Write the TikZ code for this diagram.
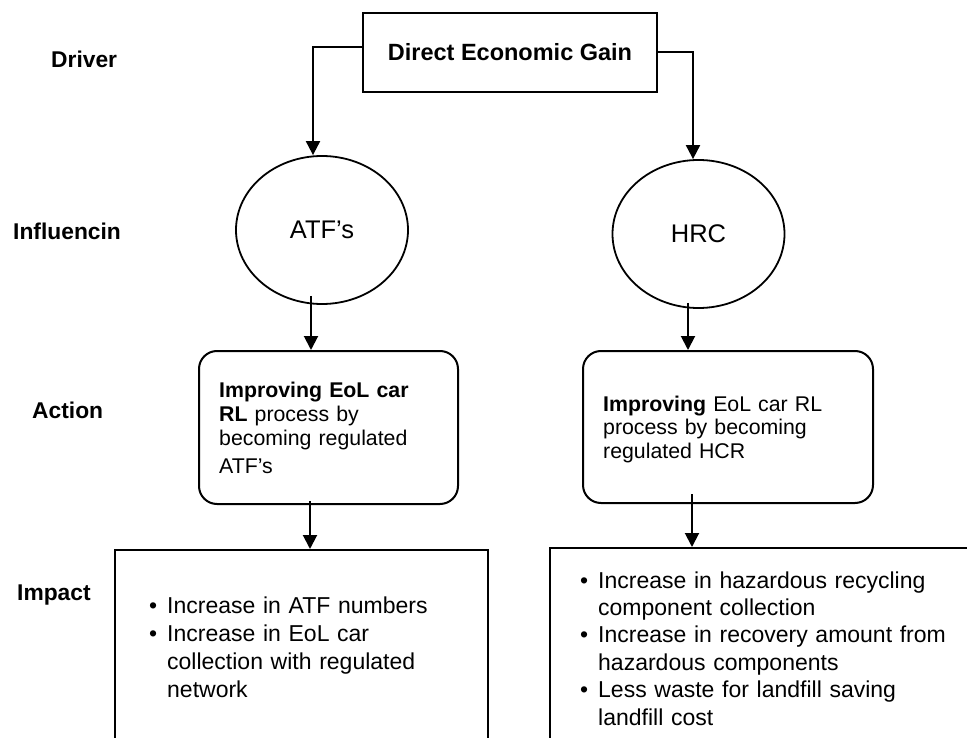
\documentclass[tikz,border=0pt]{standalone}
\usepackage{fontspec}
\setmainfont{Liberation Sans}
\usetikzlibrary{arrows.meta,shapes.geometric}
% bullet with its hanging indent, and the indent for continued lines
\newcommand{\itm}{\makebox[18pt][l]{\textbullet}}
\newcommand{\cont}{\hspace*{18pt}}
\begin{document}
\begin{tikzpicture}[x=1pt,y=-1pt,
  frame/.style={draw, line width=2pt, inner sep=0pt},
  actbox/.style={frame, rounded corners=18pt},
  party/.style={draw, ellipse, line width=1.8pt, inner sep=0pt,
    minimum width=172pt, minimum height=148pt,
    font=\fontsize{25.5}{30}\selectfont},
  conn/.style={line width=2pt, -{Triangle[length=14pt,width=14pt]}},
  rowlabel/.style={anchor=base west, inner sep=0pt,
    font=\fontsize{22.8}{27}\selectfont\bfseries},
  acttext/.style={anchor=base west, inner sep=0pt, align=left,
    text width=250pt, font=\fontsize{21.3}{24}\selectfont},
  listtext/.style={anchor=base west, inner sep=0pt, align=left,
    text width=400pt, font=\fontsize{23}{28}\selectfont}]
\useasboundingbox (0,0) rectangle (967,738);
\clip (0,0) rectangle (967,738);

% row labels
\node[rowlabel] (ldriver) at (51,68) {Driver};
\node[rowlabel] (linfl) at (13,240) {Influencin};
\node[rowlabel] (laction) at (32,418) {Action};
\node[rowlabel] (limpact) at (17,600) {Impact};

% driver
\node[frame, minimum width=294pt, minimum height=79pt,
  font=\fontsize{23.5}{28}\selectfont\bfseries] (deg) at (510,52.2)
  {Direct Economic Gain};

% influencing parties
\node[party] (atf) at (322,230) {ATF’s};
\node[party] (hrc) at (698.5,234) {HRC};

% actions
\node[actbox, minimum width=259pt, minimum height=153pt] (actl) at (328.5,427.5) {};
\node[actbox, minimum width=290pt, minimum height=152pt] (actr) at (728,427) {};
\node[acttext] (actltxt) at (219,397)
  {\textbf{Improving EoL car}\\ \textbf{RL} process by\\ becoming regulated\\[4pt] ATF’s};
\node[acttext, font=\fontsize{21.3}{23.5}\selectfont] (actrtxt) at (603,411)
  {\textbf{Improving} EoL car RL\\ process by becoming\\ regulated HCR};

% impacts (boxes run past the page edge)
\node[frame, minimum width=373pt, minimum height=220pt] (impl) at (301.5,660) {};
\node[frame, minimum width=450pt, minimum height=222pt] (impr) at (775,659) {};
\node[listtext] (impltxt) at (149,613)
  {\itm Increase in ATF numbers\\
   \itm Increase in EoL car\\
   \cont collection with regulated\\
   \cont network};
\node[listtext, font=\fontsize{23}{27.4}\selectfont] (imprtxt) at (580,588)
  {\itm Increase in hazardous recycling\\
   \cont component collection\\
   \itm Increase in recovery amount from\\
   \cont hazardous components\\
   \itm Less waste for landfill saving\\
   \cont landfill cost};

% connectors
\draw[conn] ([yshift=5pt]deg.west) -| ([xshift=-9pt]atf.north);
\draw[conn] (deg.east) -| ([xshift=-5.5pt]hrc.north);
\draw[conn] ([xshift=-11pt,yshift=9pt]atf.south) -- ([xshift=-11pt]atf.south |- actl.north);
\draw[conn] ([xshift=-10.5pt,yshift=6pt]hrc.south) -- ([xshift=-10.5pt]hrc.south |- actr.north);
\draw[conn] ([xshift=-18.5pt,yshift=4pt]actl.south) -- ([xshift=-18.5pt]actl.south |- impl.north);
\draw[conn] ([xshift=-36pt,yshift=10pt]actr.south) -- ([xshift=-36pt]actr.south |- impr.north);
\end{tikzpicture}
\end{document}
